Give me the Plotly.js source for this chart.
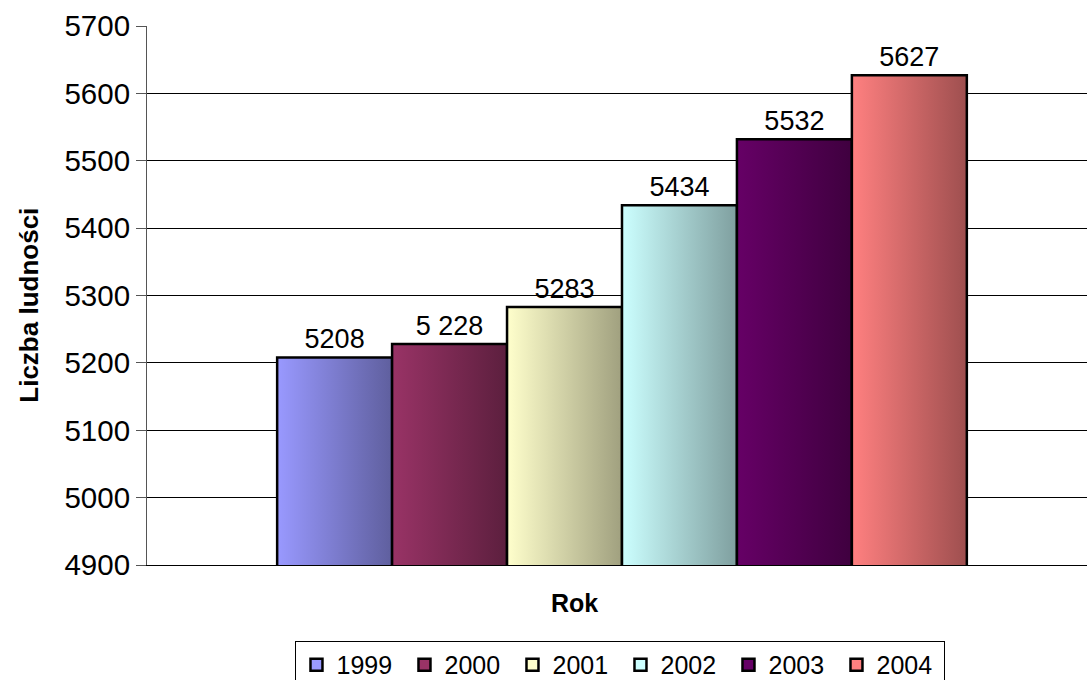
<!DOCTYPE html>
<html>
<head>
<meta charset="utf-8">
<script src="https://cdn.plot.ly/plotly-3.0.1.min.js"></script>
<style>
html,body{margin:0;padding:0;background:#fff;overflow:hidden;}
#chart{width:1087px;height:680px;}
</style>
</head>
<body>
<div id="chart"></div>
<script>
const categories = ["Rok"];
const years = ["1999", "2000", "2001", "2002", "2003", "2004"];
const population = [5208, 5228, 5283, 5434, 5532, 5627];
const labels = ["5208", "5 228", "5283", "5434", "5532", "5627"];
const lightColors = ["#9999FF", "#993366", "#FFFFCC", "#CCFFFF", "#660066", "#FF8080"];
const darkColors = ["#5F5F9E", "#5C1F3E", "#A0A07F", "#7F9F9F", "#3F003F", "#9E4F4F"];
const yTicks = [4900, 5000, 5100, 5200, 5300, 5400, 5500, 5600, 5700];

const FONT = "Liberation Sans, Arial, sans-serif";

const traces = years.map((yr, i) => ({
  type: "bar",
  name: yr,
  x: categories,
  y: [population[i]],
  text: [labels[i]],
  textposition: "outside",
  textfont: {family: FONT, size: 27, color: "#000"},
  cliponaxis: false,
  marker: {color: lightColors[i], line: {color: "#000", width: 2.5}},
  hoverinfo: "skip"
}));

const layout = {
  width: 1087,
  height: 680,
  margin: {l: 147, r: 0, t: 26, b: 115, autoexpand: false},
  paper_bgcolor: "#fff",
  plot_bgcolor: "#fff",
  font: {family: FONT, color: "#000"},
  barmode: "group",
  bargap: 0.274,
  bargroupgap: 0,
  showlegend: true,
  xaxis: {
    type: "category",
    range: [-0.5, 0.4895],
    showticklabels: false,
    ticks: "",
    showgrid: false,
    showline: true,
    linecolor: "#000",
    linewidth: 1,
    zeroline: false,
    fixedrange: true
  },
  yaxis: {
    range: [4900, 5700],
    tickmode: "array",
    tickvals: yTicks,
    ticktext: yTicks.map(String),
    ticks: "outside",
    ticklen: 10,
    tickcolor: "#555",
    tickfont: {family: FONT, size: 29.5, color: "#000"},
    showgrid: true,
    gridcolor: "#000",
    gridwidth: 1,
    showline: true,
    linecolor: "#555",
    linewidth: 1,
    zeroline: false,
    fixedrange: true
  },
  legend: {
    orientation: "h",
    x: 0.5037,
    xanchor: "center",
    y: -0.141,
    yanchor: "top",
    bordercolor: "#000",
    borderwidth: 1,
    bgcolor: "#fff",
    font: {family: FONT, size: 25, color: "#000"},
    itemwidth: 30,
    entrywidth: 63,
    traceorder: "normal"
  },
  annotations: [
    {
      text: "<b>Liczba ludności</b>",
      xref: "paper", yref: "paper",
      x: -0.125, y: 0.482,
      xanchor: "center", yanchor: "middle",
      textangle: -90,
      showarrow: false,
      font: {family: FONT, size: 26, color: "#000"}
    },
    {
      text: "<b>Rok</b>",
      xref: "paper", yref: "paper",
      x: 0.455, y: -0.0705,
      xanchor: "center", yanchor: "middle",
      showarrow: false,
      font: {family: FONT, size: 25, color: "#000"}
    }
  ]
};

Plotly.newPlot("chart", traces, layout, {staticPlot: true, displayModeBar: false}).then(gd => {
  const svg = gd.querySelector("svg.main-svg");
  const NS = "http://www.w3.org/2000/svg";
  let defs = svg.querySelector("defs");
  if (!defs) { defs = document.createElementNS(NS, "defs"); svg.insertBefore(defs, svg.firstChild); }
  const barTraces = gd.querySelectorAll(".barlayer .trace");
  barTraces.forEach((tr, i) => {
    const id = "barGrad" + i;
    const g = document.createElementNS(NS, "linearGradient");
    g.setAttribute("id", id);
    g.setAttribute("x1", "0"); g.setAttribute("y1", "0");
    g.setAttribute("x2", "1"); g.setAttribute("y2", "0");
    const s1 = document.createElementNS(NS, "stop");
    s1.setAttribute("offset", "0"); s1.setAttribute("stop-color", lightColors[i]);
    const s2 = document.createElementNS(NS, "stop");
    s2.setAttribute("offset", "1"); s2.setAttribute("stop-color", darkColors[i]);
    g.appendChild(s1); g.appendChild(s2);
    defs.appendChild(g);
    tr.querySelectorAll("path").forEach(p => {
      p.style.fill = "url(#" + id + ")";
    });
  });
});
</script>
</body>
</html>
